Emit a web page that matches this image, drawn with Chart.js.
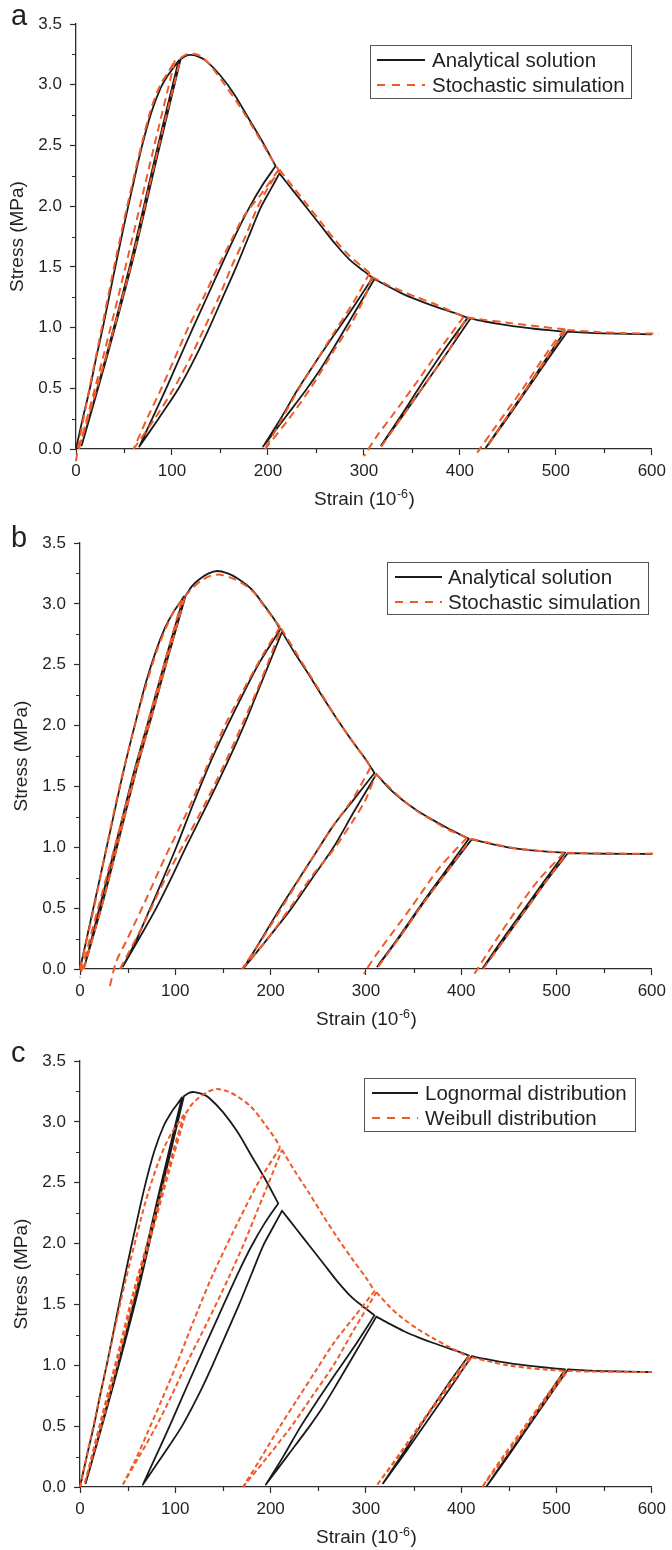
<!DOCTYPE html>
<html><head><meta charset="utf-8">
<script src="https://cdn.jsdelivr.net/npm/chart.js@4/dist/chart.umd.min.js"></script>
<style>
html,body{margin:0;padding:0;background:#fff;overflow:hidden;}
#wrap{position:relative;width:672px;height:1550px;background:#fff;}
canvas{position:absolute;left:0;}
</style></head>
<body><div id="wrap">
<canvas id="ca" width="672" height="510" style="top:0px"></canvas>
<canvas id="cb" width="672" height="520" style="top:510px"></canvas>
<canvas id="cc" width="672" height="520" style="top:1030px"></canvas>
</div>
<script>
// ---------------- data: [strain (1e-6), stress (MPa)], one sub-array per curve segment ----------------
const xTickValues = [0,100,200,300,400,500,600];
const yTickValues = [0,0.5,1.0,1.5,2.0,2.5,3.0,3.5];
const xMinorTicks = [50,150,250,350,450,550];
const yMinorTicks = [0.25,0.75,1.25,1.75,2.25,2.75,3.25];

// Analytical solution, lognormal distribution (panels a and c, black)
const lognormalSegments = [
 [[0,0],[7,0.25],[14.5,0.5],[21,0.75],[28,1.0],[35,1.27],[42,1.54],[50,1.84],[59,2.16],[68,2.47],[78,2.76],[88,2.97],[96,3.08],[102,3.145],[107,3.2]],
 [[107,3.2],[83,2.42],[58,1.57],[32,0.78],[6,0.03]],
 [[6,0.03],[33,0.78],[60,1.58],[85,2.42],[109,3.21]],
 [[109,3.21],[115,3.24],[120,3.245],[128,3.23],[135,3.2],[150,3.08],[165,2.92],[180,2.72],[195,2.52],[208,2.33]],
 [[208,2.33],[194,2.17],[180,1.98],[166,1.76],[152,1.52],[137,1.26],[122,1.0],[108,0.75],[94,0.5],[80,0.26],[66,0.02]],
 [[66,0.02],[86,0.25],[107,0.5],[124,0.75],[139,1.0],[153,1.25],[167,1.5],[180,1.75],[192,1.98],[203,2.14],[212,2.27]],
 [[212,2.27],[227,2.12],[242,1.97],[256,1.83],[270,1.69],[285,1.56],[300,1.465],[309,1.41]],
 [[309,1.41],[290,1.18],[269,0.94],[250,0.72],[231,0.49],[214,0.26],[195,0.02]],
 [[195,0.02],[219,0.27],[240,0.49],[255,0.66],[269,0.84],[290,1.12],[311,1.40]],
 [[311,1.40],[325,1.34],[340,1.28],[355,1.23],[370,1.185],[385,1.145],[398,1.11],[408,1.08]],
 [[408,1.08],[385,0.83],[362,0.56],[340,0.29],[318,0.03]],
 [[318,0.03],[342,0.29],[366,0.56],[389,0.82],[411,1.075]],
 [[411,1.075],[425,1.052],[440,1.03],[455,1.012],[470,0.997],[485,0.984],[500,0.973],[509,0.966]],
 [[509,0.966],[488,0.72],[468,0.48],[447,0.24],[427,0.01]],
 [[427,0.01],[449,0.25],[470,0.49],[491,0.73],[512,0.966]],
 [[512,0.966],[530,0.958],[550,0.952],[575,0.948],[600,0.945]]
];

// Analytical solution, Weibull distribution (panel b black, panel c red)
const weibullSegments = [
 [[0,0],[7,0.25],[14,0.5],[21,0.75],[28,1.0],[35,1.25],[42,1.5],[48.5,1.72],[59,2.05],[69,2.35],[80,2.62],[89,2.8],[97,2.92],[104,3.0],[109,3.06]],
 [[109,3.06],[91,2.58],[74,2.1],[56,1.6],[39,1.07],[22,0.55],[5,0.03]],
 [[5,0.03],[24,0.55],[41,1.07],[58,1.6],[76,2.1],[93,2.58],[111,3.07]],
 [[111,3.07],[118,3.15],[125,3.2],[135,3.25],[144,3.27],[155,3.25],[165,3.21],[180,3.12],[195,2.97],[205,2.86],[210,2.79]],
 [[210,2.79],[187,2.5],[161,2.1],[138,1.72],[119,1.36],[101,1.0],[86,0.72],[71,0.45],[58,0.22],[45,0.02]],
 [[45,0.02],[62,0.25],[80,0.5],[96,0.75],[111,1.0],[134,1.36],[156,1.72],[172,2.0],[185,2.25],[198,2.5],[212,2.77]],
 [[212,2.77],[225,2.6],[240,2.42],[255,2.23],[270,2.05],[285,1.88],[300,1.72],[309,1.61]],
 [[309,1.61],[288,1.4],[266,1.18],[247,0.95],[228,0.72],[210,0.5],[190,0.24],[171,0.0]],
 [[171,0.0],[197,0.25],[222,0.5],[244,0.75],[266,1.0],[288,1.3],[311,1.6]],
 [[311,1.6],[325,1.48],[338,1.39],[354,1.3],[370,1.225],[385,1.16],[400,1.1],[408,1.07]],
 [[408,1.07],[384,0.81],[360,0.55],[336,0.28],[312,0.02]],
 [[312,0.02],[337,0.28],[361,0.55],[386,0.81],[411,1.065]],
 [[411,1.065],[430,1.03],[449,1.0],[470,0.978],[490,0.964],[509,0.955]],
 [[509,0.955],[487,0.72],[465,0.48],[443,0.24],[422,0.0]],
 [[422,0.0],[445,0.24],[467,0.48],[489,0.72],[512,0.953]],
 [[512,0.953],[540,0.948],[570,0.946],[600,0.945]]
];

// Stochastic simulation, panel a (red dashed)
const stochasticASegments = [
 [[0,-0.1],[3,0.05],[14,0.5],[27,1.0],[41,1.55],[58,2.16],[77,2.77],[88,3.0],[96,3.1],[103,3.2]],
 [[103,3.2],[78,2.38],[54,1.58],[29,0.78],[3,0.0]],
 [[3,0.0],[32,0.78],[59,1.57],[84,2.42],[109,3.22]],
 [[109,3.22],[115,3.25],[122,3.255],[130,3.235],[140,3.16],[155,3.0],[170,2.83],[185,2.64],[200,2.44],[211,2.3]],
 [[211,2.3],[193,2.1],[176,1.93],[162,1.72],[148,1.5],[133,1.25],[117,1.0],[103,0.75],[89,0.5],[74,0.25],[60,0.0]],
 [[60,0.0],[82,0.25],[102,0.5],[119,0.75],[134,1.0],[149,1.25],[162,1.5],[176,1.74],[188,1.97],[200,2.15],[212,2.3]],
 [[212,2.3],[227,2.15],[242,2.0],[256,1.86],[270,1.72],[285,1.59],[300,1.49],[306,1.45]],
 [[306,1.45],[290,1.22],[269,0.96],[250,0.72],[231,0.48],[214,0.24],[197,0.0]],
 [[197,0.0],[222,0.25],[246,0.52],[269,0.815],[287,1.035],[296,1.17],[304,1.31],[308,1.42]],
 [[308,1.42],[325,1.35],[340,1.3],[355,1.25],[372,1.2],[388,1.145],[404,1.09]],
 [[404,1.09],[380,0.83],[355,0.55],[330,0.28],[313,0.1],[300,-0.06]],
 [[318,0.02],[342,0.29],[366,0.56],[389,0.82],[407,1.085]],
 [[407,1.085],[420,1.07],[450,1.04],[484,1.007],[510,0.985]],
 [[510,0.985],[490,0.74],[469,0.49],[448,0.25],[427,0.0]],
 [[418,-0.03],[435,0.16],[465,0.49],[494,0.83],[508,0.97],[512,0.98]],
 [[512,0.98],[540,0.965],[570,0.955],[607,0.95]]
];

// Stochastic simulation, panel b (red dashed)
const stochasticBSegments = [
 [[0,0],[14,0.48],[27,0.97],[41,1.48],[58,2.02],[70,2.35],[80,2.6],[90,2.8],[100,2.96],[107,3.03]],
 [[107,3.03],[90,2.55],[72,2.05],[55,1.55],[37,1.02],[19,0.5],[2,0.0],[0,-0.07]],
 [[4,0.0],[24,0.55],[41,1.07],[58,1.6],[76,2.1],[93,2.58],[110,3.06]],
 [[110,3.06],[118,3.13],[127,3.19],[137,3.23],[147,3.24],[160,3.21],[170,3.17],[183,3.09],[195,2.96],[210,2.81]],
 [[210,2.81],[194,2.61],[172,2.3],[152,2.0],[133,1.66],[113,1.3],[90,0.93],[68,0.55],[48,0.22],[38,0.06],[31,-0.15]],
 [[42,0.0],[66,0.36],[90,0.75],[116,1.13],[134,1.4],[152,1.69],[172,2.04],[190,2.37],[211,2.8]],
 [[211,2.8],[225,2.62],[240,2.43],[255,2.24],[270,2.05],[285,1.88],[298,1.74],[305,1.66]],
 [[305,1.66],[288,1.42],[266,1.18],[247,0.95],[228,0.71],[209,0.47],[189,0.22],[170,0.0]],
 [[170,0.0],[196,0.24],[222,0.52],[244,0.77],[266,0.98],[285,1.2],[299,1.38],[309,1.57],[311,1.6]],
 [[311,1.6],[325,1.49],[340,1.38],[355,1.29],[370,1.22],[385,1.15],[400,1.1],[406,1.08]],
 [[406,1.08],[377,0.83],[346,0.49],[313,0.14],[300,-0.01],[298,-0.04]],
 [[313,0.02],[337,0.28],[361,0.55],[386,0.81],[410,1.07]],
 [[410,1.07],[430,1.035],[450,1.0],[470,0.98],[490,0.965],[508,0.955]],
 [[508,0.955],[480,0.72],[454,0.44],[435,0.22],[413,-0.05]],
 [[423,0.0],[445,0.24],[467,0.48],[489,0.72],[511,0.955]],
 [[511,0.955],[540,0.95],[570,0.948],[606,0.948]]
];

const labelsAB = ['Analytical solution', 'Stochastic simulation'];
const labelsC = ['Lognormal distribution', 'Weibull distribution'];
const xTitle = ['Strain (10', '-6', ')'];
const yTitle = 'Stress (MPa)';

// ---------------- styling ----------------
const FONT = '"Liberation Sans", Arial, Helvetica, sans-serif';
const INK = '#231f20';
const AXIS = '#2b2b2b';
const BLACK = '#1a1a1a';
const RED = '#f05a28';

// segments -> Chart.js points, a null point between segments breaks the line
const toPts = segs => segs.flatMap((s, i) => (i ? [{x: null, y: null}] : []).concat(s.map(p => ({x: p[0], y: p[1]}))));

const decoPlugin = {
  id: 'deco',
  afterDraw(chart, args, o) {
    const ctx = chart.ctx, a = chart.chartArea;
    const xs = chart.scales.x, ys = chart.scales.y;
    ctx.save();
    // minor ticks
    ctx.strokeStyle = AXIS; ctx.lineWidth = 1.2;
    ctx.beginPath();
    xMinorTicks.forEach(v => { const p = Math.round(xs.getPixelForValue(v)) + 0.5; ctx.moveTo(p, a.bottom); ctx.lineTo(p, a.bottom + 4); });
    yMinorTicks.forEach(v => { const p = Math.round(ys.getPixelForValue(v)) + 0.5; ctx.moveTo(a.left, p); ctx.lineTo(a.left - 4, p); });
    ctx.stroke();
    ctx.fillStyle = INK;
    // panel letter
    ctx.font = '29px ' + FONT; ctx.textAlign = 'left'; ctx.textBaseline = 'alphabetic';
    ctx.fillText(o.letter, o.letterX, o.letterY);
    // y title
    ctx.save();
    ctx.translate(o.yTitleX, (a.top + a.bottom) / 2);
    ctx.rotate(-Math.PI / 2);
    ctx.font = '19px ' + FONT; ctx.textAlign = 'center'; ctx.textBaseline = 'middle';
    ctx.fillText(yTitle, 0, 0);
    ctx.restore();
    // x title with superscript
    ctx.textAlign = 'left'; ctx.textBaseline = 'alphabetic';
    ctx.font = '19px ' + FONT; const w1 = ctx.measureText(xTitle[0]).width; const w3 = ctx.measureText(xTitle[2]).width;
    ctx.font = '12.5px ' + FONT; const w2 = ctx.measureText(xTitle[1]).width;
    const x0 = (a.left + a.right) / 2 - (w1 + w2 + w3) / 2;
    ctx.font = '19px ' + FONT; ctx.fillText(xTitle[0], x0, o.xTitleY);
    ctx.font = '12.5px ' + FONT; ctx.fillText(xTitle[1], x0 + w1 + 0.5, o.xTitleY - 7.5);
    ctx.font = '19px ' + FONT; ctx.fillText(xTitle[2], x0 + w1 + w2 + 1, o.xTitleY);
    // legend
    const L = o.legend;
    ctx.strokeStyle = '#555'; ctx.lineWidth = 1;
    ctx.strokeRect(L.x + 0.5, L.y + 0.5, L.w, L.h);
    ctx.font = L.fontSize + 'px ' + FONT; ctx.textBaseline = 'middle';
    chart.data.datasets.forEach((ds, i) => {
      const ry = L.rows[i];
      ctx.save();
      ctx.strokeStyle = ds.borderColor; ctx.lineWidth = 2;
      ctx.setLineDash(ds.legendDash || []);
      ctx.beginPath(); ctx.moveTo(L.sx1, ry); ctx.lineTo(L.sx2, ry); ctx.stroke();
      ctx.restore();
      ctx.fillStyle = INK;
      ctx.fillText(ds.label, L.tx, ry + 1);
    });
    ctx.restore();
  }
};

function makeChart(id, area, canvasH, datasets, deco) {
  return new Chart(document.getElementById(id), {
    type: 'line',
    data: { datasets },
    plugins: [decoPlugin],
    options: {
      responsive: false, animation: false, devicePixelRatio: 1,
      layout: { padding: { left: 0, top: area.top, right: 672 - area.right, bottom: 0 } },
      elements: { point: { radius: 0, hoverRadius: 0 }, line: { tension: 0.3, borderJoinStyle: 'round' } },
      scales: {
        x: {
          type: 'linear', min: 0, max: 600,
          afterFit: s => { s.height = canvasH - area.bottom; },
          afterBuildTicks: s => { s.ticks = xTickValues.map(v => ({ value: v })); },
          grid: { drawOnChartArea: false, drawTicks: true, tickLength: 6, tickColor: AXIS, tickWidth: 1.2 },
          border: { display: true, color: AXIS, width: 1.3 },
          ticks: { font: { family: FONT, size: 17 }, color: INK, padding: 6, maxRotation: 0, autoSkip: false, callback: v => String(v) }
        },
        y: {
          type: 'linear', min: 0, max: 3.5,
          afterFit: s => { s.width = area.left; },
          afterBuildTicks: s => { s.ticks = yTickValues.map(v => ({ value: v })); },
          grid: { drawOnChartArea: false, drawTicks: true, tickLength: 6, tickColor: AXIS, tickWidth: 1.2 },
          border: { display: true, color: AXIS, width: 1.3 },
          ticks: { font: { family: FONT, size: 17 }, color: INK, padding: 8, autoSkip: false, callback: v => Number(v).toFixed(1) }
        }
      },
      plugins: { legend: { display: false }, tooltip: { enabled: false }, deco }
    }
  });
}

function blackSet(label, segs) {
  return { label, data: toPts(segs), borderColor: BLACK, borderWidth: 1.8, borderCapStyle: 'round', spanGaps: false, fill: false, order: 2, legendDash: [] };
}
function redSet(label, segs, dash, legendDash) {
  return { label, data: toPts(segs), borderColor: RED, borderWidth: 2, borderDash: dash, spanGaps: false, fill: false, order: 1, clip: false, legendDash };
}

makeChart('ca', { left: 76, right: 655, top: 24, bottom: 449 }, 510,
  [blackSet(labelsAB[0], lognormalSegments), redSet(labelsAB[1], stochasticASegments, [8, 5], [8, 7])],
  { letter: 'a', letterX: 11, letterY: 25, yTitleX: 18, xTitleY: 505,
    legend: { x: 370, y: 45, w: 261, h: 53, rows: [60, 85], sx1: 377, sx2: 425, tx: 432, fontSize: 20.5 } });

makeChart('cb', { left: 80, right: 658, top: 33, bottom: 459 }, 520,
  [blackSet(labelsAB[0], weibullSegments), redSet(labelsAB[1], stochasticBSegments, [8, 5], [8, 7])],
  { letter: 'b', letterX: 11, letterY: 37, yTitleX: 22, xTitleY: 515,
    legend: { x: 387, y: 52, w: 261, h: 52, rows: [67, 92], sx1: 395, sx2: 442, tx: 448, fontSize: 20.5 } });

makeChart('cc', { left: 80, right: 658, top: 31, bottom: 457 }, 520,
  [blackSet(labelsC[0], lognormalSegments), redSet(labelsC[1], weibullSegments, [5, 3], [8, 7])],
  { letter: 'c', letterX: 11, letterY: 32, yTitleX: 22, xTitleY: 513,
    legend: { x: 364, y: 48, w: 271, h: 53, rows: [63, 88], sx1: 372, sx2: 418, tx: 425, fontSize: 20.5 } });
</script>
</body></html>
